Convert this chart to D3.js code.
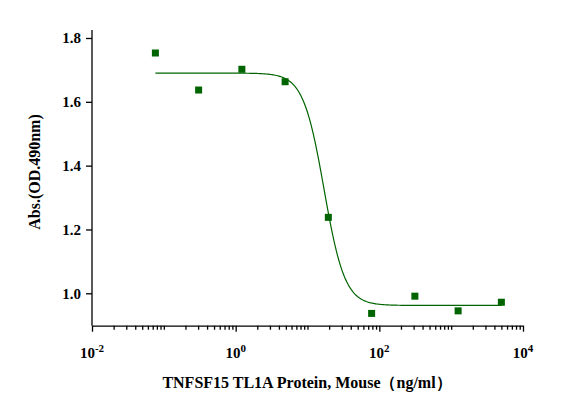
<!DOCTYPE html>
<html><head><meta charset="utf-8">
<script src="https://cdn.jsdelivr.net/npm/d3@7"></script>
<style>body{margin:0;background:#fff}</style></head>
<body><svg id="c" width="583" height="413"></svg>
<script>
const concentrations = [0.0763, 0.305, 1.22, 4.88, 19.5, 78.1, 312.5, 1250, 5000];
const absorbance = [1.753, 1.637, 1.702, 1.663, 1.238, 0.937, 0.991, 0.945, 0.972];
// 4PL fit parameters: bottom, top, EC50, hill
const fitParams = [0.962, 1.690, 17, 3.0];
const yTicks = [1.0, 1.2, 1.4, 1.6, 1.8];
const xTickExps = [-2, 0, 2, 4];

const svg = d3.select("#c");
const x = d3.scaleLog().domain([0.01, 10000]).range([92, 523]);
const y = d3.scaleLinear().domain([1.0, 1.8]).range([293.3, 38]);
const green = "#006400";
const font = "Liberation Serif, Times New Roman, serif";

const yAxis = svg.append("g").attr("transform","translate(92,0)")
  .call(d3.axisLeft(y).tickValues(yTicks).tickFormat(d3.format(".1f")).tickSize(6).tickSizeOuter(0));
yAxis.select(".domain").attr("d","M0,30V325.7");
svg.append("g").attr("transform","translate(0,325.7)")
  .call(d3.axisBottom(x).tickValues(xTickExps.map(e=>Math.pow(10,e))).tickFormat("").tickSize(6).tickSizeOuter(0));
const minor = [];
for (let e=-2;e<4;e++) for (let m=1;m<10;m++){ const v=m*Math.pow(10,e); if(!(m===1 && e%2===0)) minor.push(v);}
svg.append("g").attr("transform","translate(0,325.7)")
  .call(d3.axisBottom(x).tickValues(minor).tickFormat("").tickSize(4).tickSizeOuter(0))
  .select(".domain").remove();
svg.selectAll(".domain, .tick line").attr("stroke","#000").attr("stroke-width",1.3);
yAxis.selectAll("text").attr("font-family",font).attr("font-size",15).attr("font-weight","bold").attr("fill","#000").attr("dx",-2);

xTickExps.forEach(e=>{
  const t = svg.append("text").attr("x",x(Math.pow(10,e))).attr("y",358).attr("text-anchor","middle")
    .attr("font-family",font).attr("font-size",15).attr("font-weight","bold");
  t.append("tspan").text("10");
  t.append("tspan").attr("dy",-6).attr("font-size",11).text(String(e));
});

const [fBot, fTop, fEc50, fHill] = fitParams;
const f = c => fBot + (fTop-fBot)/(1+Math.pow(c/fEc50, fHill));
const l0 = Math.log10(concentrations[0]), l1 = Math.log10(concentrations[concentrations.length-1]);
const cs = d3.range(0,301).map(i=>Math.pow(10, l0 + i/300*(l1-l0)));
svg.append("path").attr("d", d3.line().x(c=>x(c)).y(c=>y(f(c)))(cs))
  .attr("fill","none").attr("stroke",green).attr("stroke-width",1.2);

svg.selectAll("rect.pt").data(concentrations).join("rect").attr("class","pt")
  .attr("x",d=>x(d)-3.5).attr("y",(d,i)=>y(absorbance[i])-3.5).attr("width",7).attr("height",7).attr("fill",green);

svg.append("text").attr("x",307).attr("y",388).attr("text-anchor","middle")
  .attr("font-family",font).attr("font-size",16).attr("font-weight","bold").text("TNFSF15 TL1A Protein, Mouse（ng/ml）");
svg.append("text").attr("transform","translate(40,172) rotate(-90)").attr("text-anchor","middle")
  .attr("font-family",font).attr("font-size",16).attr("font-weight","bold").text("Abs.(OD.490nm)");
</script></body></html>
